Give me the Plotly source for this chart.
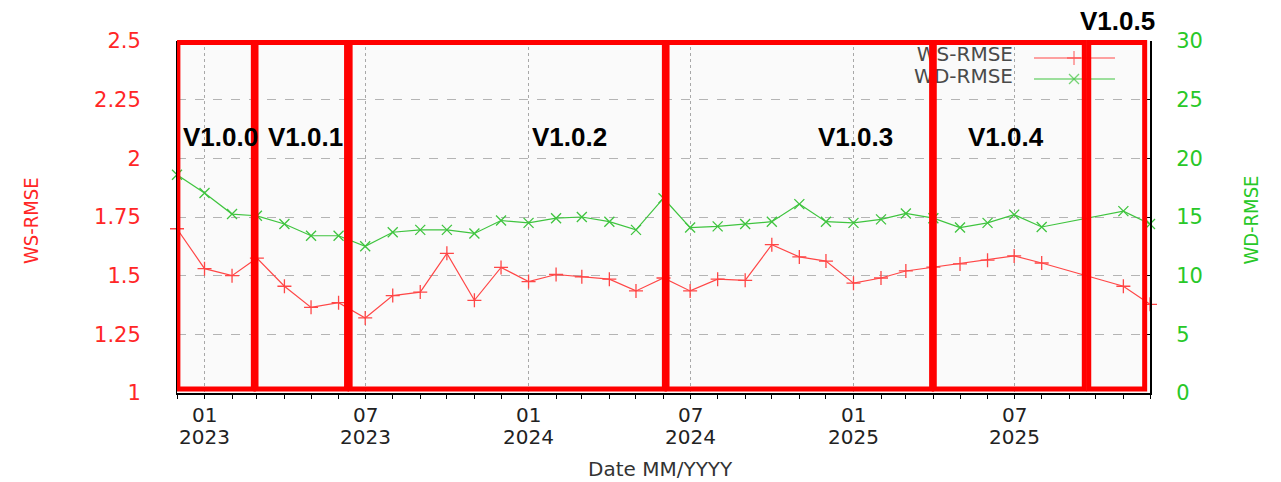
import plotly.graph_objects as go

# ---------------- data ----------------
dates = [
    "2022-12-01",
    "2023-01-01", "2023-02-01", "2023-03-01", "2023-04-01", "2023-05-01", "2023-06-01",
    "2023-07-01", "2023-08-01", "2023-09-01", "2023-10-01", "2023-11-01", "2023-12-01",
    "2024-01-01", "2024-02-01", "2024-03-01", "2024-04-01", "2024-05-01", "2024-06-01",
    "2024-07-01", "2024-08-01", "2024-09-01", "2024-10-01", "2024-11-01", "2024-12-01",
    "2025-01-01", "2025-02-01", "2025-03-01", "2025-04-01", "2025-05-01", "2025-06-01",
    "2025-07-01", "2025-08-01", "2025-11-01", "2025-12-01",
]
ws_rmse = [
    1.70,
    1.53, 1.50, 1.575, 1.455, 1.365, 1.385,
    1.32, 1.415, 1.43, 1.595, 1.395, 1.535,
    1.475, 1.505, 1.495, 1.485, 1.435, 1.49,
    1.435, 1.485, 1.48, 1.632, 1.58, 1.562,
    1.468, 1.49, 1.52, 1.536, 1.55, 1.566,
    1.584, 1.554, 1.455, 1.378,
]
wd_rmse = [
    18.6,
    17.05, 15.25, 15.1, 14.4, 13.4, 13.4,
    12.5, 13.7, 13.9, 13.9, 13.6, 14.7,
    14.5, 14.9, 15.0, 14.6, 13.9, 16.6,
    14.1, 14.2, 14.4, 14.6, 16.1, 14.6,
    14.5, 14.8, 15.3, 14.9, 14.1, 14.5,
    15.2, 14.15, 15.5, 14.4,
]

x_tick_vals = ["2023-01-01", "2023-07-01", "2024-01-01", "2024-07-01", "2025-01-01", "2025-07-01"]
x_tick_month = ["01", "07", "01", "07", "01", "07"]
x_tick_year = ["2023", "2023", "2024", "2024", "2025", "2025"]
ws_ticks = [1, 1.25, 1.5, 1.75, 2, 2.25, 2.5]
ws_tick_text = ["1", "1.25", "1.5", "1.75", "2", "2.25", "2.5"]
wd_ticks = [0, 5, 10, 15, 20, 25, 30]

versions = ["V1.0.0", "V1.0.1", "V1.0.2", "V1.0.3", "V1.0.4", "V1.0.5"]
version_start = ["2022-12-02", "2023-02-28", "2023-06-14", "2024-06-05", "2025-04-02", "2025-09-23"]
version_end = ["2023-02-25", "2023-06-10", "2024-06-02", "2025-03-30", "2025-09-18", "2025-11-25"]
version_label_pos = [(0.0442, 0.727), (0.1316, 0.727), (0.4039, 0.727),
                     (0.6978, 0.727), (0.852, 0.726), (0.9661, 1.057)]

RED_LINE = "#ff4646"
GREEN_LINE = "#3fc43f"
RED_TXT = "#ff2626"
GREEN_TXT = "#28c828"
BOX_RED = "#ff0000"

# plot area at x 177..1150, y 41..393 on screen
PLOT_W, PLOT_H = 973, 352
ML, MT = 177, 41
FIG_W, FIG_H = 1281, 482

fig = go.Figure()

fig.add_trace(go.Scatter(
    x=dates, y=ws_rmse, mode="lines+markers", name="WS-RMSE",
    line=dict(color=RED_LINE, width=1.2),
    marker=dict(symbol="cross-thin", size=10, line=dict(color=RED_LINE, width=1.3)),
    cliponaxis=False, showlegend=False,
))
fig.add_trace(go.Scatter(
    x=dates, y=wd_rmse, mode="lines+markers", name="WD-RMSE", yaxis="y2",
    line=dict(color=GREEN_LINE, width=1.2),
    marker=dict(symbol="x-thin", size=10, line=dict(color=GREEN_LINE, width=1.3)),
    cliponaxis=False, showlegend=False,
))

# manual gnuplot-style key (text left, sample right) on a 0..1 overlay axis pair
key_font = dict(family="DejaVu Sans", size=20, color="#4a4a4a")
fig.add_trace(go.Scatter(
    x=[0.8592, 0.8592], y=[0.957, 0.895], mode="text",
    text=["WS-RMSE", "WD-RMSE"], textposition="middle left",
    textfont=key_font, xaxis="x3", yaxis="y3", showlegend=False, hoverinfo="skip",
))
fig.add_trace(go.Scatter(
    x=[0.8808, 0.9219, 0.964], y=[0.9517] * 3, mode="lines+markers",
    line=dict(color=RED_LINE, width=1.2),
    marker=dict(symbol="cross-thin", size=[0, 10, 0], line=dict(color=RED_LINE, width=1.3)),
    xaxis="x3", yaxis="y3", showlegend=False, hoverinfo="skip",
))
fig.add_trace(go.Scatter(
    x=[0.8808, 0.9219, 0.964], y=[0.892] * 3, mode="lines+markers",
    line=dict(color=GREEN_LINE, width=1.2),
    marker=dict(symbol="x-thin", size=[0, 10, 0], line=dict(color=GREEN_LINE, width=1.3)),
    xaxis="x3", yaxis="y3", showlegend=False, hoverinfo="skip",
))

shapes = []
for s, e in zip(version_start, version_end):
    shapes.append(dict(type="rect", xref="x", yref="paper", x0=s, x1=e,
                       y0=0.0114, y1=0.9957, line=dict(color=BOX_RED, width=5),
                       fillcolor="rgba(0,0,0,0)", layer="above"))

annotations = []
for v, (px, py) in zip(versions, version_label_pos):
    annotations.append(dict(text=v, xref="paper", yref="paper", x=px, y=py,
                            showarrow=False, xanchor="center", yanchor="middle",
                            font=dict(family="Liberation Sans", size=26, color="black", weight="bold")))
tick_font = dict(family="DejaVu Sans", size=20, color="#222222")
for tv, m, yr in zip(x_tick_vals, x_tick_month, x_tick_year):
    annotations.append(dict(text=m, xref="x", yref="paper", x=tv, y=-22 / PLOT_H,
                            showarrow=False, xanchor="center", yanchor="middle", font=tick_font))
    annotations.append(dict(text=yr, xref="x", yref="paper", x=tv, y=-44 / PLOT_H,
                            showarrow=False, xanchor="center", yanchor="middle", font=tick_font))
annotations.append(dict(text="WS-RMSE", xref="paper", yref="paper", x=-0.150, y=0.489,
                        textangle=-90, showarrow=False, xanchor="center", yanchor="middle",
                        font=dict(family="DejaVu Sans Condensed, DejaVu Sans", size=20, color=RED_TXT)))
annotations.append(dict(text="WD-RMSE", xref="paper", yref="paper", x=1.1028, y=0.49,
                        textangle=-90, showarrow=False, xanchor="center", yanchor="middle",
                        font=dict(family="DejaVu Sans Condensed, DejaVu Sans", size=20, color=GREEN_TXT)))
annotations.append(dict(text="Date MM/YYYY", xref="paper", yref="paper", x=0.497, y=-76 / PLOT_H,
                        showarrow=False, xanchor="center", yanchor="middle",
                        font=dict(family="DejaVu Sans", size=20, color="#333333")))

fig.update_layout(
    width=FIG_W, height=FIG_H,
    margin=dict(l=ML, r=FIG_W - ML - PLOT_W, t=MT, b=FIG_H - MT - PLOT_H, autoexpand=False),
    paper_bgcolor="white", plot_bgcolor="#fafafa",
    showlegend=False,
    shapes=shapes, annotations=annotations,
    xaxis=dict(
        type="date", range=["2022-12-01", "2025-12-01"],
        tickmode="array", tickvals=x_tick_vals, showticklabels=False,
        showgrid=True, gridcolor="#a8a8a8", griddash="dot", gridwidth=1,
        ticks="outside", ticklen=4, tickcolor="black",
        minor=dict(dtick="M1", tick0="2022-12-01", ticks="outside", ticklen=4,
                   tickcolor="black", showgrid=False),
        showline=True, linecolor="black", linewidth=2, zeroline=False,
        fixedrange=True,
    ),
    yaxis=dict(
        range=[1, 2.5], tickmode="array", tickvals=ws_ticks, ticktext=ws_tick_text,
        tickfont=dict(family="DejaVu Sans", size=21, color=RED_TXT),
        showgrid=True, gridcolor="#b4b4b4", griddash="dash", gridwidth=1,
        ticks="", ticklabelstandoff=31,
        showline=True, linecolor="black", linewidth=1, zeroline=False,
    ),
    yaxis2=dict(
        range=[0, 30], overlaying="y", side="right", tickmode="array", tickvals=wd_ticks,
        tickfont=dict(family="DejaVu Sans", size=21, color=GREEN_TXT),
        showgrid=False, ticks="inside", ticklen=6, tickcolor="black",
        ticklabelstandoff=20,
        showline=True, linecolor="black", linewidth=2, zeroline=False,
    ),
    xaxis3=dict(range=[0, 1], overlaying="x", visible=False, fixedrange=True),
    yaxis3=dict(range=[0, 1], overlaying="y", visible=False, fixedrange=True),
)

fig.write_html(
    "out.html",
    config={"displayModeBar": False},
    post_script="document.body.style.margin='0';document.body.style.overflow='hidden';",
)
